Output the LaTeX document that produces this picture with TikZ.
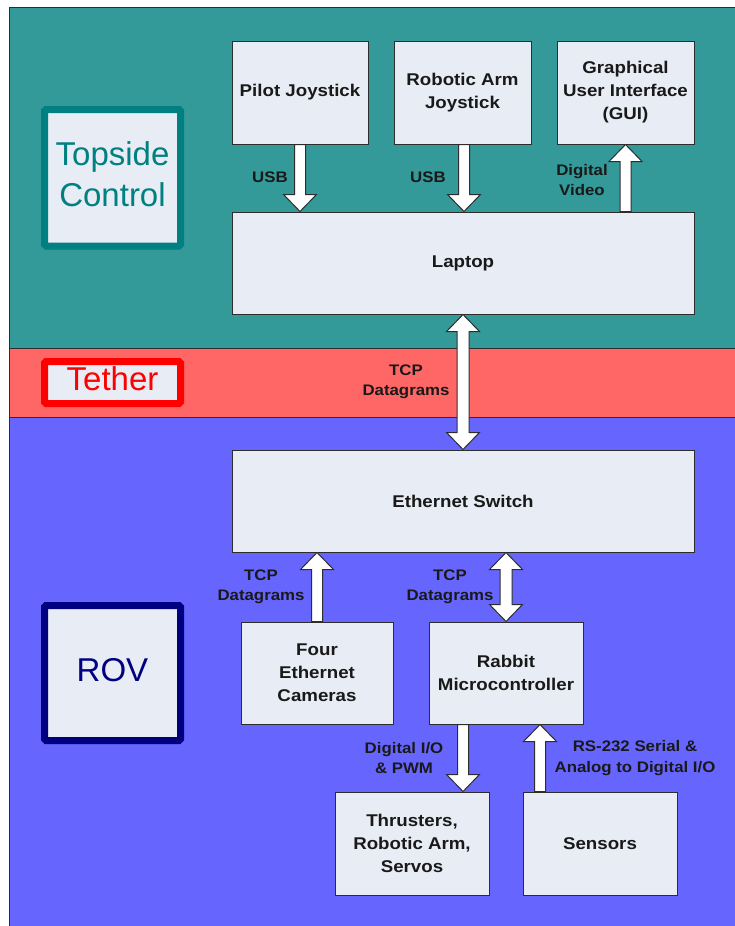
\documentclass[tikz,border=0pt]{standalone}
\usepackage{fontspec}
\setmainfont{Liberation Sans}
\newfontfamily\wide{Liberation Sans}[FakeStretch=1.1]
\usetikzlibrary{calc}
\definecolor{tealbg}{RGB}{51,153,153}
\definecolor{redbg}{RGB}{255,102,102}
\definecolor{bluebg}{RGB}{102,102,255}
\definecolor{boxfill}{RGB}{232,236,245}
\definecolor{edge}{RGB}{45,45,45}
\definecolor{tealtxt}{RGB}{0,128,128}
\definecolor{navytxt}{RGB}{0,0,128}
\newcommand\blockarrow[2]{%
  \draw[blockarr] let \p1=#1, \p2=#2, \n1={sign(\y2-\y1)} in
   (\x1-5.5pt,\y1) -- (\x1-5.5pt,\y2-\n1*17pt) -- (\x1-16.5pt,\y2-\n1*17pt) -- (\x1,\y2)
   -- (\x1+16.5pt,\y2-\n1*17pt) -- (\x1+5.5pt,\y2-\n1*17pt) -- (\x1+5.5pt,\y1) -- cycle;}
\newcommand\dblockarrow[2]{%
  \draw[blockarr] let \p1=#1, \p2=#2, \n1={sign(\y2-\y1)} in
   (\x1,\y1) -- (\x1+16.5pt,\y1+\n1*17pt) -- (\x1+6pt,\y1+\n1*17pt) -- (\x1+6pt,\y2-\n1*17pt)
   -- (\x1+16.5pt,\y2-\n1*17pt) -- (\x1,\y2) -- (\x1-16.5pt,\y2-\n1*17pt) -- (\x1-6pt,\y2-\n1*17pt)
   -- (\x1-6pt,\y1+\n1*17pt) -- (\x1-16.5pt,\y1+\n1*17pt) -- cycle;}
\newcommand\tagtext[1]{\raisebox{3pt}{\begin{tabular}{@{}c@{}}#1\end{tabular}}}
\begin{document}
\begin{tikzpicture}[x=1pt,y=-1pt,
 region/.style={draw=edge,line width=1pt},
 box/.style={draw=edge,line width=1pt,fill=boxfill,align=center,inner sep=0pt,
   font=\wide\bfseries\fontsize{17}{23}\selectfont,text=black!90},
 lbl/.style={align=center,inner sep=0pt,font=\wide\bfseries\fontsize{15.3}{20.5}\selectfont,text=black!90},
 tag/.style={line width=7pt,fill=boxfill,inner sep=0pt,rounded corners=1.5pt,
   minimum width=136pt,font=\fontsize{33}{41}\selectfont},
 blockarr/.style={draw=edge,fill=white,line width=1pt,line join=miter}]
\useasboundingbox (0,0) rectangle (734,926);
% regions
\fill[white] (0,0) rectangle (734,926);
\draw[region,fill=tealbg] (9,7) rectangle (745,348);
\draw[region,fill=redbg] (9,348) rectangle (745,417);
\draw[region,fill=bluebg] (9,417) rectangle (745,940);
% tags
\node[tag,draw=tealtxt,text=tealtxt,minimum height=136.5pt] (top) at (112.5,177.75) {\tagtext{Topside\\Control}};
\node[tag,draw=red,text=red,minimum height=42pt] (teth) at (112.5,382.5) {\tagtext{Tether}};
\node[tag,draw=navytxt,text=navytxt,minimum height=135pt] (rov) at (112.5,673) {\tagtext{ROV}};
% boxes
\node[box,minimum width=136pt,minimum height=103pt] (pj) at (300,92.5) {Pilot Joystick};
\node[box,minimum width=137pt,minimum height=103pt] (ra) at (462.5,92.5) {Robotic Arm\\Joystick};
\node[box,minimum width=137pt,minimum height=103pt] (gui) at (625.5,92.5) {Graphical\\User Interface\\(GUI)};
\node[box,minimum width=462pt,minimum height=102pt] (lap) at (463,263) {Laptop};
\node[box,minimum width=462pt,minimum height=102pt] (eth) at (463,501) {Ethernet Switch};
\node[box,minimum width=152pt,minimum height=102pt] (cam) at (317,673) {Four\\Ethernet\\Cameras};
\node[box,minimum width=154pt,minimum height=102pt] (rab) at (506,673) {Rabbit\\Microcontroller};
\node[box,minimum width=154pt,minimum height=103pt] (thr) at (412,843.5) {Thrusters,\\Robotic Arm,\\Servos};
\node[box,minimum width=154pt,minimum height=103pt] (sen) at (600,843.5) {Sensors};
% helper coordinates
\coordinate (raA) at ($(ra.south)+(1.5,0)$);
\coordinate (thrA) at ($(rab.south)+(-43,0)$);
\coordinate (senA) at ($(sen.north)+(-60,0)$);
% arrows
\blockarrow{(pj.south)}{(pj.south |- lap.north)}
\blockarrow{(raA)}{(raA |- lap.north)}
\blockarrow{(gui.south |- lap.north)}{(gui.south)}
\dblockarrow{(lap.south)}{(lap.south |- eth.north)}
\blockarrow{(cam.north)}{(cam.north |- eth.south)}
\dblockarrow{(rab.north |- eth.south)}{(rab.north)}
\blockarrow{(thrA)}{(thrA |- thr.north)}
\blockarrow{(senA)}{(senA |- rab.south)}
% labels
\node[lbl] (usb1) at (270,177) {USB};
\node[lbl] (usb2) at (428,177) {USB};
\node[lbl] (dv) at (582,180) {Digital\\Video};
\node[lbl] (tcp1) at (406,382) {TCP\\Datagrams};
\node[lbl] (tcp2) at (261,587) {TCP\\Datagrams};
\node[lbl] (tcp3) at (450,587) {TCP\\Datagrams};
\node[lbl] (dio) at (404,758) {Digital I/O\\\& PWM};
\node[lbl] (rs) at (635,758) {RS-232 Serial \&\\Analog to Digital I/O};
\end{tikzpicture}
\end{document}
